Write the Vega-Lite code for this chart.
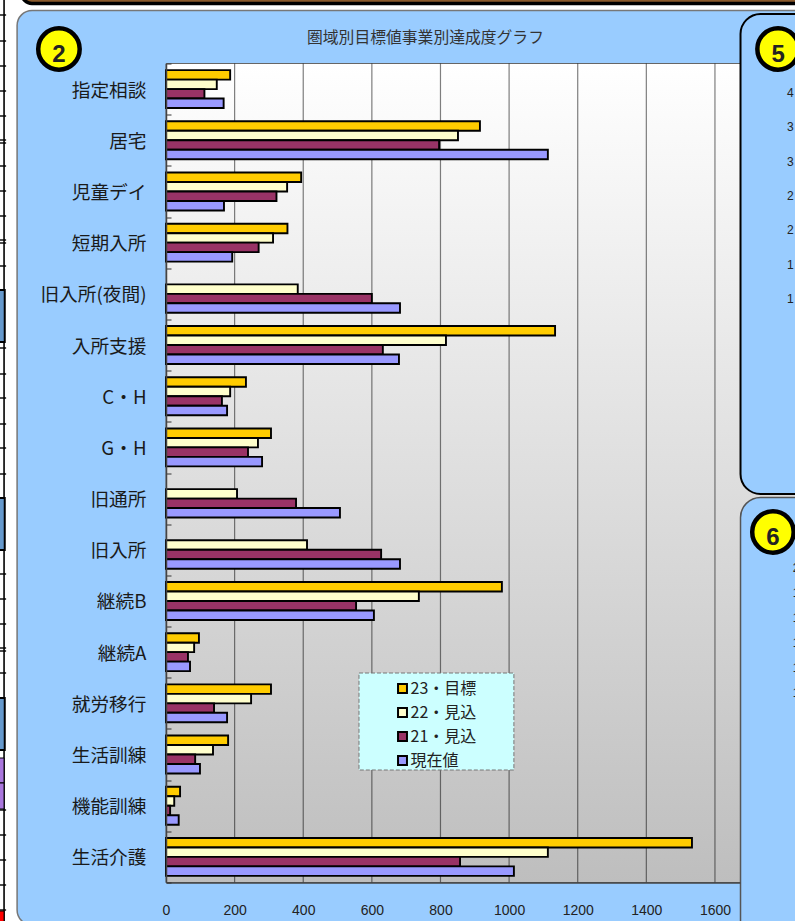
{
"$schema":"https://vega.github.io/schema/vega-lite/v6.json",
"width":574,"height":819,
"autosize":{"type":"none"},
"padding":{"left":166,"top":63.5,"right":55,"bottom":38.5},
"background":"#FFFFFF",
"config":{"view":{"stroke":null},"font":"Noto Sans CJK JP"},
"resolve":{"scale":{"y":"independent"},"axis":{"y":"independent"}},
"layer":[
{"layer":[
{"data":{"values":[{"part":"panel"}]},"mark":{"type":"rect","fill":"#99CCFF","stroke":"#777777","strokeWidth":1.5,"cornerRadius":15},
"encoding":{"x":{"datum":-434,"type":"quantitative","scale":{"domain":[0,1673],"nice":false,"zero":false},"axis":{"values":[0,200,400,600,800,1000,1200,1400,1600],"format":"d","labelFlush":false,"title":null,"grid":false,"tickSize":0,"labelPadding":21,"labelFont":"Liberation Sans","labelFontSize":14,"labelColor":"#222222","domainColor":"#444444","domainWidth":1.5,"zindex":1}},"x2":{"datum":2000},
"y":{"datum":10.5,"type":"quantitative","scale":{"domain":[63.5,882.5],"reverse":true,"nice":false,"zero":false},"axis":null},"y2":{"datum":925}}},
{"data":{"values":[{"part":"plot"}]},"mark":{"type":"rect","stroke":"#666666","strokeWidth":1,"fill":{"gradient":"linear","x1":0,"y1":0,"x2":0,"y2":1,"stops":[{"offset":0,"color":"#FFFFFF"},{"offset":1,"color":"#BEBEBE"}]}},
"encoding":{"x":{"datum":0,"type":"quantitative"},"x2":{"datum":2000},
"y":{"datum":63.5,"type":"quantitative","scale":{"domain":[63.5,882.5],"reverse":true,"nice":false,"zero":false},"axis":null},"y2":{"datum":882.5}}},
{"data":{"values":[{"tick":200},{"tick":400},{"tick":600},{"tick":800},{"tick":1000},{"tick":1200},{"tick":1400},{"tick":1600}]},"mark":{"type":"rule","color":"#000000","opacity":0.5,"strokeWidth":1.2},
"encoding":{"x":{"field":"tick","type":"quantitative"}}}
]},
{"data":{"values":[
{"cat":"指定相談","series":"23・目標","value":187},{"cat":"指定相談","series":"22・見込","value":148},{"cat":"指定相談","series":"21・見込","value":112},{"cat":"指定相談","series":"現在値","value":168},
{"cat":"居宅","series":"23・目標","value":915},{"cat":"居宅","series":"22・見込","value":851},{"cat":"居宅","series":"21・見込","value":796},{"cat":"居宅","series":"現在値","value":1113},
{"cat":"児童デイ","series":"23・目標","value":394},{"cat":"児童デイ","series":"22・見込","value":353},{"cat":"児童デイ","series":"21・見込","value":322},{"cat":"児童デイ","series":"現在値","value":169},
{"cat":"短期入所","series":"23・目標","value":354},{"cat":"短期入所","series":"22・見込","value":312},{"cat":"短期入所","series":"21・見込","value":270},{"cat":"短期入所","series":"現在値","value":193},
{"cat":"旧入所(夜間)","series":"22・見込","value":384},{"cat":"旧入所(夜間)","series":"21・見込","value":600},{"cat":"旧入所(夜間)","series":"現在値","value":682},
{"cat":"入所支援","series":"23・目標","value":1134},{"cat":"入所支援","series":"22・見込","value":816},{"cat":"入所支援","series":"21・見込","value":632},{"cat":"入所支援","series":"現在値","value":679},
{"cat":"C・H","series":"23・目標","value":233},{"cat":"C・H","series":"22・見込","value":187},{"cat":"C・H","series":"21・見込","value":163},{"cat":"C・H","series":"現在値","value":178},
{"cat":"G・H","series":"23・目標","value":306},{"cat":"G・H","series":"22・見込","value":268},{"cat":"G・H","series":"21・見込","value":239},{"cat":"G・H","series":"現在値","value":280},
{"cat":"旧通所","series":"22・見込","value":207},{"cat":"旧通所","series":"21・見込","value":379},{"cat":"旧通所","series":"現在値","value":507},
{"cat":"旧入所","series":"22・見込","value":411},{"cat":"旧入所","series":"21・見込","value":627},{"cat":"旧入所","series":"現在値","value":682},
{"cat":"継続B","series":"23・目標","value":979},{"cat":"継続B","series":"22・見込","value":737},{"cat":"継続B","series":"21・見込","value":554},{"cat":"継続B","series":"現在値","value":606},
{"cat":"継続A","series":"23・目標","value":96},{"cat":"継続A","series":"22・見込","value":82},{"cat":"継続A","series":"21・見込","value":64},{"cat":"継続A","series":"現在値","value":70},
{"cat":"就労移行","series":"23・目標","value":306},{"cat":"就労移行","series":"22・見込","value":248},{"cat":"就労移行","series":"21・見込","value":140},{"cat":"就労移行","series":"現在値","value":178},
{"cat":"生活訓練","series":"23・目標","value":181},{"cat":"生活訓練","series":"22・見込","value":137},{"cat":"生活訓練","series":"21・見込","value":85},{"cat":"生活訓練","series":"現在値","value":99},
{"cat":"機能訓練","series":"23・目標","value":41},{"cat":"機能訓練","series":"22・見込","value":24},{"cat":"機能訓練","series":"21・見込","value":12},{"cat":"機能訓練","series":"現在値","value":37},
{"cat":"生活介護","series":"23・目標","value":1533},{"cat":"生活介護","series":"22・見込","value":1113},{"cat":"生活介護","series":"21・見込","value":857},{"cat":"生活介護","series":"現在値","value":1014}
]},
"mark":{"type":"bar","stroke":"#000000","strokeWidth":1.9},
"encoding":{
"x":{"field":"value","type":"quantitative"},
"y":{"field":"cat","type":"nominal","sort":null,"scale":{"domain":["指定相談","居宅","児童デイ","短期入所","旧入所(夜間)","入所支援","C・H","G・H","旧通所","旧入所","継続B","継続A","就労移行","生活訓練","機能訓練","生活介護"],"paddingInner":0,"paddingOuter":0},"axis":{"orient":"left","title":null,"tickBand":"extent","tickSize":-5,"tickColor":"#333333","domainColor":"#444444","domainWidth":1.5,"labelPadding":25,"labelOffset":1,"labelFontSize":18.7,"labelColor":"#1A1A1A","labelFont":"Noto Sans CJK JP","labelLimit":200,"zindex":1}},
"yOffset":{"field":"series","type":"nominal","scale":{"domain":["23・目標","22・見込","21・見込","現在値"],"paddingOuter":0.7,"paddingInner":0}},
"color":{"field":"series","type":"nominal","scale":{"domain":["23・目標","22・見込","21・見込","現在値"],"range":["#FFCC00","#FFFFCC","#993366","#9999FF"]},
"legend":{"orient":"none","legendX":228.5,"legendY":617,"title":null,"symbolType":"square","symbolSize":80,"symbolStrokeColor":"#000000","symbolStrokeWidth":2,"symbolOpacity":1,"labelFontSize":16,"labelColor":"#222222","labelFont":"Noto Sans CJK JP","rowPadding":6,"labelOffset":0,"padding":0,"zindex":2}}
}},
{"layer":[
{"data":{"values":[{"part":"legend box"}]},"mark":{"type":"rect","fill":"#CCFFFF","stroke":"#777777","strokeWidth":1,"strokeDash":[4,2]},
"encoding":{"x":{"datum":562.5,"type":"quantitative"},"x2":{"datum":1014},
"y":{"datum":673,"type":"quantitative","scale":{"domain":[63.5,882.5],"reverse":true,"nice":false,"zero":false},"axis":null},"y2":{"datum":770}}},
{"data":{"values":[{"part":"panel 5"}]},"mark":{"type":"rect","fill":"#99CCFF","stroke":"#000000","strokeWidth":2,"cornerRadius":20},
"encoding":{"x":{"datum":1674.5,"type":"quantitative"},"x2":{"datum":2100},
"y":{"datum":14,"type":"quantitative"},"y2":{"datum":494}}},
{"data":{"values":[{"part":"panel 6"}]},"mark":{"type":"rect","fill":"#99CCFF","stroke":"#555555","strokeWidth":1.5,"cornerRadius":20},
"encoding":{"x":{"datum":1674.5,"type":"quantitative"},"x2":{"datum":2100},
"y":{"datum":497.5,"type":"quantitative"},"y2":{"datum":1000}}},
{"data":{"values":[{"part":"top bar"}]},"mark":{"type":"rect","fill":"#8B5A2B","stroke":"#000000","strokeWidth":3.5,"cornerRadius":10},
"encoding":{"x":{"datum":-420,"type":"quantitative"},"x2":{"datum":2100},
"y":{"datum":-30,"type":"quantitative"},"y2":{"datum":3.5}}},
{"data":{"values":[{"part":"sheet edge"}]},"mark":{"type":"rule","color":"#000000","strokeWidth":1.6},
"encoding":{"x":{"datum":-472,"type":"quantitative"},"y":{"datum":-5,"type":"quantitative"},"y2":{"datum":925}}},
{"data":{"values":[{"row":15},{"row":41},{"row":66},{"row":91},{"row":116},{"row":140},{"row":143},{"row":166},{"row":191},{"row":216},{"row":240},{"row":243},{"row":266},{"row":348},{"row":374},{"row":398},{"row":424},{"row":448},{"row":474},{"row":574},{"row":599},{"row":624},{"row":648},{"row":651},{"row":673},{"row":810},{"row":835},{"row":860},{"row":885},{"row":910}]},"mark":{"type":"rule","color":"#000000","strokeWidth":1.4},
"encoding":{"x":{"datum":-490,"type":"quantitative"},"x2":{"datum":-466},"y":{"field":"row","type":"quantitative"}}},
{"data":{"values":[{"part":"blue cell"}]},"mark":{"type":"rect","fill":"#6699CC","stroke":"#000000","strokeWidth":2},
"encoding":{"x":{"datum":-495,"type":"quantitative"},"x2":{"datum":-470},"y":{"datum":290,"type":"quantitative"},"y2":{"datum":342}}},
{"data":{"values":[{"part":"blue cell"}]},"mark":{"type":"rect","fill":"#6699CC","stroke":"#000000","strokeWidth":2},
"encoding":{"x":{"datum":-495,"type":"quantitative"},"x2":{"datum":-470},"y":{"datum":498,"type":"quantitative"},"y2":{"datum":550}}},
{"data":{"values":[{"part":"blue cell"}]},"mark":{"type":"rect","fill":"#6699CC","stroke":"#000000","strokeWidth":2},
"encoding":{"x":{"datum":-495,"type":"quantitative"},"x2":{"datum":-470},"y":{"datum":698,"type":"quantitative"},"y2":{"datum":750}}},
{"data":{"values":[{"part":"purple cell"}]},"mark":{"type":"rect","fill":"#AA77DD","stroke":"#000000","strokeWidth":1},
"encoding":{"x":{"datum":-495,"type":"quantitative"},"x2":{"datum":-472},"y":{"datum":758,"type":"quantitative"},"y2":{"datum":783}}},
{"data":{"values":[{"part":"purple cell"}]},"mark":{"type":"rect","fill":"#AA77DD","stroke":"#000000","strokeWidth":1},
"encoding":{"x":{"datum":-495,"type":"quantitative"},"x2":{"datum":-472},"y":{"datum":783,"type":"quantitative"},"y2":{"datum":809}}},
{"data":{"values":[{"part":"red cell"}]},"mark":{"type":"rect","fill":"#FF0000","stroke":"#000000","strokeWidth":1},
"encoding":{"x":{"datum":-495,"type":"quantitative"},"x2":{"datum":-472},"y":{"datum":911,"type":"quantitative"},"y2":{"datum":930}}},
{"data":{"values":[{"n":"2"}]},"mark":{"type":"point","shape":"circle","filled":true,"fill":"#FFFF00","stroke":"#000000","strokeWidth":4.5,"opacity":1,"size":1720},
"encoding":{"x":{"datum":-312,"type":"quantitative"},"y":{"datum":49,"type":"quantitative"}}},
{"data":{"values":[{"n":"5"}]},"mark":{"type":"point","shape":"circle","filled":true,"fill":"#FFFF00","stroke":"#000000","strokeWidth":4.5,"opacity":1,"size":1720},
"encoding":{"x":{"datum":1784,"type":"quantitative"},"y":{"datum":49,"type":"quantitative"}}},
{"data":{"values":[{"n":"6"}]},"mark":{"type":"point","shape":"circle","filled":true,"fill":"#FFFF00","stroke":"#000000","strokeWidth":4.5,"opacity":1,"size":1720},
"encoding":{"x":{"datum":1769,"type":"quantitative"},"y":{"datum":532,"type":"quantitative"}}},
{"data":{"values":[{"n":"2"}]},"mark":{"type":"text","font":"Liberation Sans","fontWeight":"bold","fontSize":24,"color":"#222222","baseline":"middle","dy":6},
"encoding":{"text":{"field":"n"},"x":{"datum":-312,"type":"quantitative"},"y":{"datum":49,"type":"quantitative"}}},
{"data":{"values":[{"n":"5"}]},"mark":{"type":"text","font":"Liberation Sans","fontWeight":"bold","fontSize":24,"color":"#222222","baseline":"middle","dy":6},
"encoding":{"text":{"field":"n"},"x":{"datum":1784,"type":"quantitative"},"y":{"datum":49,"type":"quantitative"}}},
{"data":{"values":[{"n":"6"}]},"mark":{"type":"text","font":"Liberation Sans","fontWeight":"bold","fontSize":24,"color":"#222222","baseline":"middle","dy":6},
"encoding":{"text":{"field":"n"},"x":{"datum":1769,"type":"quantitative"},"y":{"datum":532,"type":"quantitative"}}},
{"data":{"values":[{"t":"圏域別目標値事業別達成度グラフ"}]},"mark":{"type":"text","font":"Noto Sans CJK JP","fontSize":15.8,"color":"#333333","align":"left","baseline":"middle"},
"encoding":{"text":{"field":"t"},"x":{"datum":411,"type":"quantitative"},"y":{"datum":38,"type":"quantitative"}}}
]},
{"data":{"values":[{"tick":400,"label":"4"},{"tick":350,"label":"3"},{"tick":300,"label":"3"},{"tick":250,"label":"2"},{"tick":200,"label":"2"},{"tick":150,"label":"1"},{"tick":100,"label":"1"}]},
"mark":{"type":"text","align":"left","baseline":"middle","fontSize":12,"font":"Liberation Sans","color":"#222222"},
"encoding":{"text":{"field":"label"},"x":{"datum":1810,"type":"quantitative"},"y":{"field":"tick","type":"quantitative","scale":{"domain":[-749,443],"nice":false,"zero":false},"axis":null}}},
{"data":{"values":[{"tick":200,"label":"2"},{"tick":180,"label":"1"},{"tick":160,"label":"1"},{"tick":140,"label":"1"},{"tick":120,"label":"1"},{"tick":100,"label":"1"}]},
"mark":{"type":"text","align":"left","baseline":"middle","fontSize":12,"font":"Liberation Sans","color":"#222222"},
"encoding":{"text":{"field":"label"},"x":{"datum":1827,"type":"quantitative"},"y":{"field":"tick","type":"quantitative","scale":{"domain":[-51.6,603.6],"nice":false,"zero":false},"axis":null}}}
]
}
